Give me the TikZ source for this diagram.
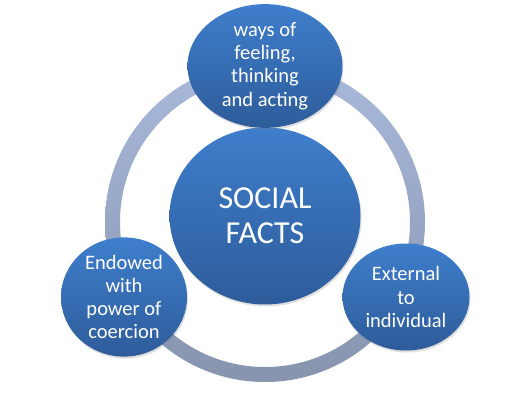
\documentclass[tikz,border=0pt]{standalone}
\usepackage{fontspec}
\setmainfont{Carlito}
\usetikzlibrary{shapes.geometric,shadows}
\definecolor{ringtop}{HTML}{A9B9DB}
\definecolor{ringbot}{HTML}{8794AE}
\definecolor{baltop}{HTML}{3E7ECC}
\definecolor{balbot}{HTML}{2E5C9A}
\tikzset{
  ball/.style={ellipse, inner sep=0pt, top color=baltop, bottom color=balbot,
    draw=none, text=white, align=center,
    drop shadow={shadow xshift=1pt, shadow yshift=-2pt, opacity=0.25}},
  small/.style={font=\fontsize{20.5}{23.3}\selectfont},
}
\begin{document}
\begin{tikzpicture}[x=1pt,y=-1pt]
\useasboundingbox[fill=white] (0,0) rectangle (523,412);
% ring
\path[even odd rule, top color=ringtop, bottom color=ringbot]
  (265,222) circle[radius=160] (265,222) circle[radius=145];
\node[ball, minimum width=191pt, minimum height=177pt,
  font=\fontsize{32}{35}\selectfont] (center) at (265,216) {SOCIAL\\FACTS};
\node[ball, small, minimum width=155pt, minimum height=105pt] (top) at (265,66)
  {ways of\\feeling,\\thinking\\and acting};
\node[ball, small, minimum width=126pt, minimum height=107pt] (left) at (124,297)
  {Endowed\\with\\power of\\coercion};
\node[ball, small, minimum width=127pt, minimum height=107pt] (right) at (406,297)
  {External\\to\\individual};
\end{tikzpicture}
\end{document}
